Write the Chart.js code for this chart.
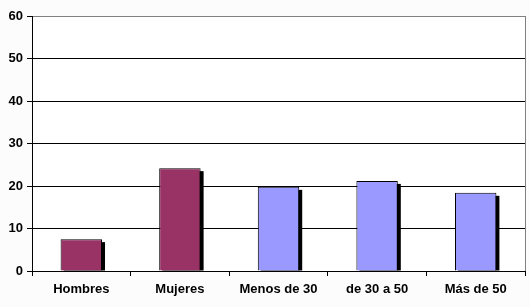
<!DOCTYPE html>
<html>
<head>
<meta charset="utf-8">
<script src="https://cdn.jsdelivr.net/npm/chart.js@4/dist/chart.umd.min.js"></script>
<style>
  html, body { margin: 0; padding: 0; background: #fcfcfc; }
  #wrap { width: 530px; height: 307px; }
</style>
</head>
<body>
<div id="wrap"><canvas id="chart" width="530" height="307"></canvas></div>
<script>
// Data
const categories = ["Hombres", "Mujeres", "Menos de 30", "de 30 a 50", "Más de 50"];
const values = [7.5, 24.2, 19.8, 21.2, 18.4];
const barColors = ["#993366", "#993366", "#9999FF", "#9999FF", "#9999FF"];
const yTicks = [0, 10, 20, 30, 40, 50, 60];

const labelFont = { family: "'Liberation Sans', Arial, sans-serif", size: 13, weight: "bold" };

// black drop shadow behind each bar + white plot background + grey right edge
const barShadow = {
  id: "barShadow",
  beforeDraw(chart) {
    const { ctx, chartArea } = chart;
    ctx.save();
    ctx.fillStyle = "#ffffff";
    ctx.fillRect(chartArea.left, chartArea.top, chartArea.right - chartArea.left, chartArea.bottom - chartArea.top);
    ctx.restore();
  },
  beforeDatasetsDraw(chart) {
    const { ctx } = chart;
    ctx.save();
    ctx.fillStyle = "#000000";
    chart.getDatasetMeta(0).data.forEach((bar) => {
      const w = bar.width;
      ctx.fillRect(bar.x - w / 2 + 3, bar.y + 3, w, bar.base - bar.y - 3);
    });
    ctx.restore();
  },
  afterDraw(chart) {
    const { ctx, chartArea } = chart;
    ctx.save();
    ctx.strokeStyle = "#808080";
    ctx.lineWidth = 1;
    ctx.beginPath();
    ctx.moveTo(chartArea.right + 0.5, chartArea.top);
    ctx.lineTo(chartArea.right + 0.5, chartArea.bottom);
    ctx.stroke();
    ctx.restore();
  },
};

const barEl = document.getElementById("chart").getContext("2d");

const barChart = new Chart(barEl, {
  type: "bar",
  data: {
    labels: categories,
    datasets: [
      {
        data: values,
        backgroundColor: barColors,
        borderColor: "#000000",
        borderWidth: 1,
        barPercentage: 0.42,
        categoryPercentage: 1,
      },
    ],
  },
  options: {
    responsive: false,
    animation: false,
    layout: { padding: { top: 16, right: 5, left: 0, bottom: 0 } },
    plugins: {
      legend: { display: false },
      tooltip: { enabled: false },
    },
    scales: {
      x: {
        grid: {
          offset: true,
          drawOnChartArea: false,
          color: "#000000",
          tickLength: 5,
        },
        border: { color: "#000000" },
        ticks: { color: "#000000", font: labelFont, padding: 6, maxRotation: 0 },
        afterFit(scale) { scale.height = 36; },
      },
      y: {
        min: 0,
        max: 60,
        afterBuildTicks(scale) { scale.ticks = yTicks.map((v) => ({ value: v })); },
        grid: {
          color: (ctx) => (ctx.tick && ctx.tick.value === 60 ? "#808080" : "#000000"),
          tickColor: "#000000",
          tickLength: 5,
        },
        border: { color: "#000000" },
        ticks: { color: "#000000", font: labelFont, padding: 4 },
        afterFit(scale) { scale.width = 32; },
      },
    },
  },
  plugins: [barShadow],
});
</script>
</body>
</html>
